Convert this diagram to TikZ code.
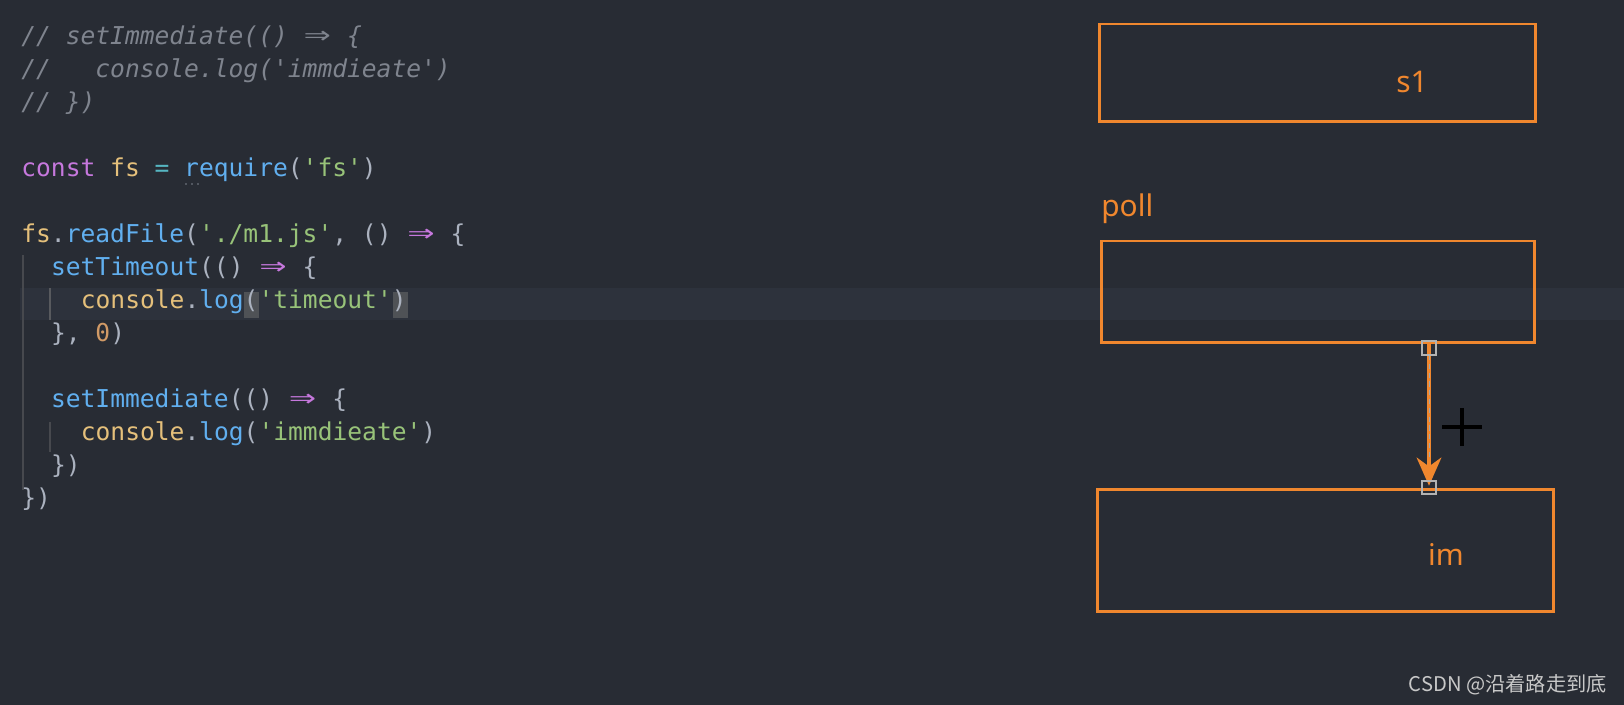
\documentclass[tikz,border=0pt]{standalone}
\usepackage{fontspec}
\setmainfont{Noto Sans}
\setmonofont{DejaVu Sans Mono}
\newfontfamily\cjkfont{Noto Sans CJK SC}
\usepackage{xcolor}
\usetikzlibrary{arrows.meta,positioning}
\definecolor{bgc}{HTML}{282C34}
\definecolor{bandc}{HTML}{2D323C}
\definecolor{cmtc}{HTML}{7F848E}
\definecolor{kwc}{HTML}{C678DD}
\definecolor{varc}{HTML}{E5C07B}
\definecolor{fnc}{HTML}{61AFEF}
\definecolor{strc}{HTML}{98C379}
\definecolor{punc}{HTML}{ABB2BF}
\definecolor{numc}{HTML}{D19A66}
\definecolor{opc}{HTML}{56B6C2}
\definecolor{boxc}{HTML}{F0872E}
\definecolor{wmc}{HTML}{C8C8C8}
\newcommand{\jkw}[1]{\textcolor{kwc}{#1}}
\newcommand{\jvar}[1]{\textcolor{varc}{#1}}
\newcommand{\jfn}[1]{\textcolor{fnc}{#1}}
\newcommand{\jstr}[1]{\textcolor{strc}{#1}}
\newcommand{\jnum}[1]{\textcolor{numc}{#1}}
\newcommand{\jop}[1]{\textcolor{opc}{#1}}
\newcommand{\sq}{\textquotesingle}
\newcommand{\fatarrow}{\makebox[1.2em]{\scalebox{1.8}[1.25]{⇒}}}

\begin{document}
\begin{tikzpicture}[x=0.02cm,y=-0.02cm,
  codeline/.style={anchor=base west,inner sep=0pt,text=punc,
    font=\ttfamily\fontsize{14}{16}\selectfont},
  comment/.style={codeline,text=cmtc,
    font=\ttfamily\itshape\fontsize{14}{16}\selectfont},
  queue/.style={draw=boxc,line width=1.7pt,inner sep=0pt},
  boxtag/.style={anchor=base,inner sep=0pt,text=boxc,
    font=\fontsize{17}{20}\selectfont},
  guide/.style={draw=#1,line width=0.6pt},
  flow/.style={draw=boxc,line width=2.4pt,
    -{Stealth[length=16pt,width=14pt,inset=5pt]},shorten >=1pt},
  handle/.style={draw=gray!60!white,line width=0.9pt,inner sep=0pt,
    minimum size=0.27cm}]
  % Editor background
  \fill[bgc] (0,0) rectangle (1624,705);
  \fill[bandc] (20,288) rectangle (1624,320);
  % Indent guides and bracket marks
  \draw[guide=gray!35!bgc] (23,255) -- (23,490);
  \draw[guide=gray!55!bgc] (50,288) -- (50,320);
  \draw[guide=gray!35!bgc] (50,422) -- (50,452);
  \fill[gray!45!bgc] (244,292) rectangle (259,318);
  \fill[gray!45!bgc] (393,292) rectangle (408,318);
  \foreach \i in {0,1,2}
    \fill[cmtc] (186+\i*6,184) circle (0.5pt);

  % Code
  \node[comment] (c0) at (21,45) {// setImmediate(() \fatarrow{} \{};
  \node[comment] (c1) at (21,78) {//\ \ \ console.log(\sq immdieate\sq)};
  \node[comment] (c2) at (21,111) {// \})};
  \node[codeline] (c4) at (21,177)
    {\jkw{const} \jvar{fs} \jop{=} \jfn{require}(\jstr{\sq fs\sq})};
  \node[codeline] (c6) at (21,243)
    {\jvar{fs}.\jfn{readFile}(\jstr{\sq./m1.js\sq}, () \jkw{\fatarrow} \{};
  \node[codeline] (c7) at (50.7,276) {\jfn{setTimeout}(() \jkw{\fatarrow} \{};
  \node[codeline] (c8) at (80.5,309)
    {\jvar{console}.\jfn{log}(\jstr{\sq timeout\sq})};
  \node[codeline] (c9) at (50.7,342) {\}, \jnum{0})};
  \node[codeline] (c11) at (50.7,408) {\jfn{setImmediate}(() \jkw{\fatarrow} \{};
  \node[codeline] (c12) at (80.5,441)
    {\jvar{console}.\jfn{log}(\jstr{\sq immdieate\sq})};
  \node[codeline] (c13) at (50.7,474) {\})};
  \node[codeline] (c14) at (21,507) {\})};

  % Queues
  \node[queue,minimum width=8.74cm,minimum height=1.96cm] (s1box) at (1317.5,73) {};
  \node[boxtag] (s1tag) at (1412,93) {s1};
  \node[queue,minimum width=8.68cm,minimum height=2.04cm] (pollbox) at (1318,292) {};
  \node[boxtag,anchor=base west] (polltag) at (1101,217) {poll};
  \node[queue,minimum width=9.14cm,minimum height=2.46cm] (imbox) at (1325.5,550.5) {};
  \node[boxtag] (imtag) at (1446,566) {im};

  % Connector poll -> im
  \coordinate (hook) at (1429,0);
  \coordinate (tailpt) at (pollbox.south -| hook);
  \coordinate (headpt) at (imbox.north -| hook);
  \draw[flow] (tailpt) -- (headpt);
  \draw[gray!70!white,line width=0.5pt,dash pattern=on 3pt off 2pt]
    ([yshift=-6pt]tailpt) -- ([yshift=16pt]headpt);
  \node[handle] (h1) at ([yshift=-2pt]tailpt) {};
  \node[handle] (h2) at (headpt) {};

  % Cursor
  \draw[black,line width=1.9pt] (1442,427) -- (1482,427) (1462,408) -- (1462,446);

  % Watermark
  \node[anchor=base east,inner sep=0pt,text=wmc,
    font=\cjkfont\fontsize{11.5}{13}\selectfont] (wm) at (1607,692)
    {CSDN @沿着路走到底};
\end{tikzpicture}
\end{document}
